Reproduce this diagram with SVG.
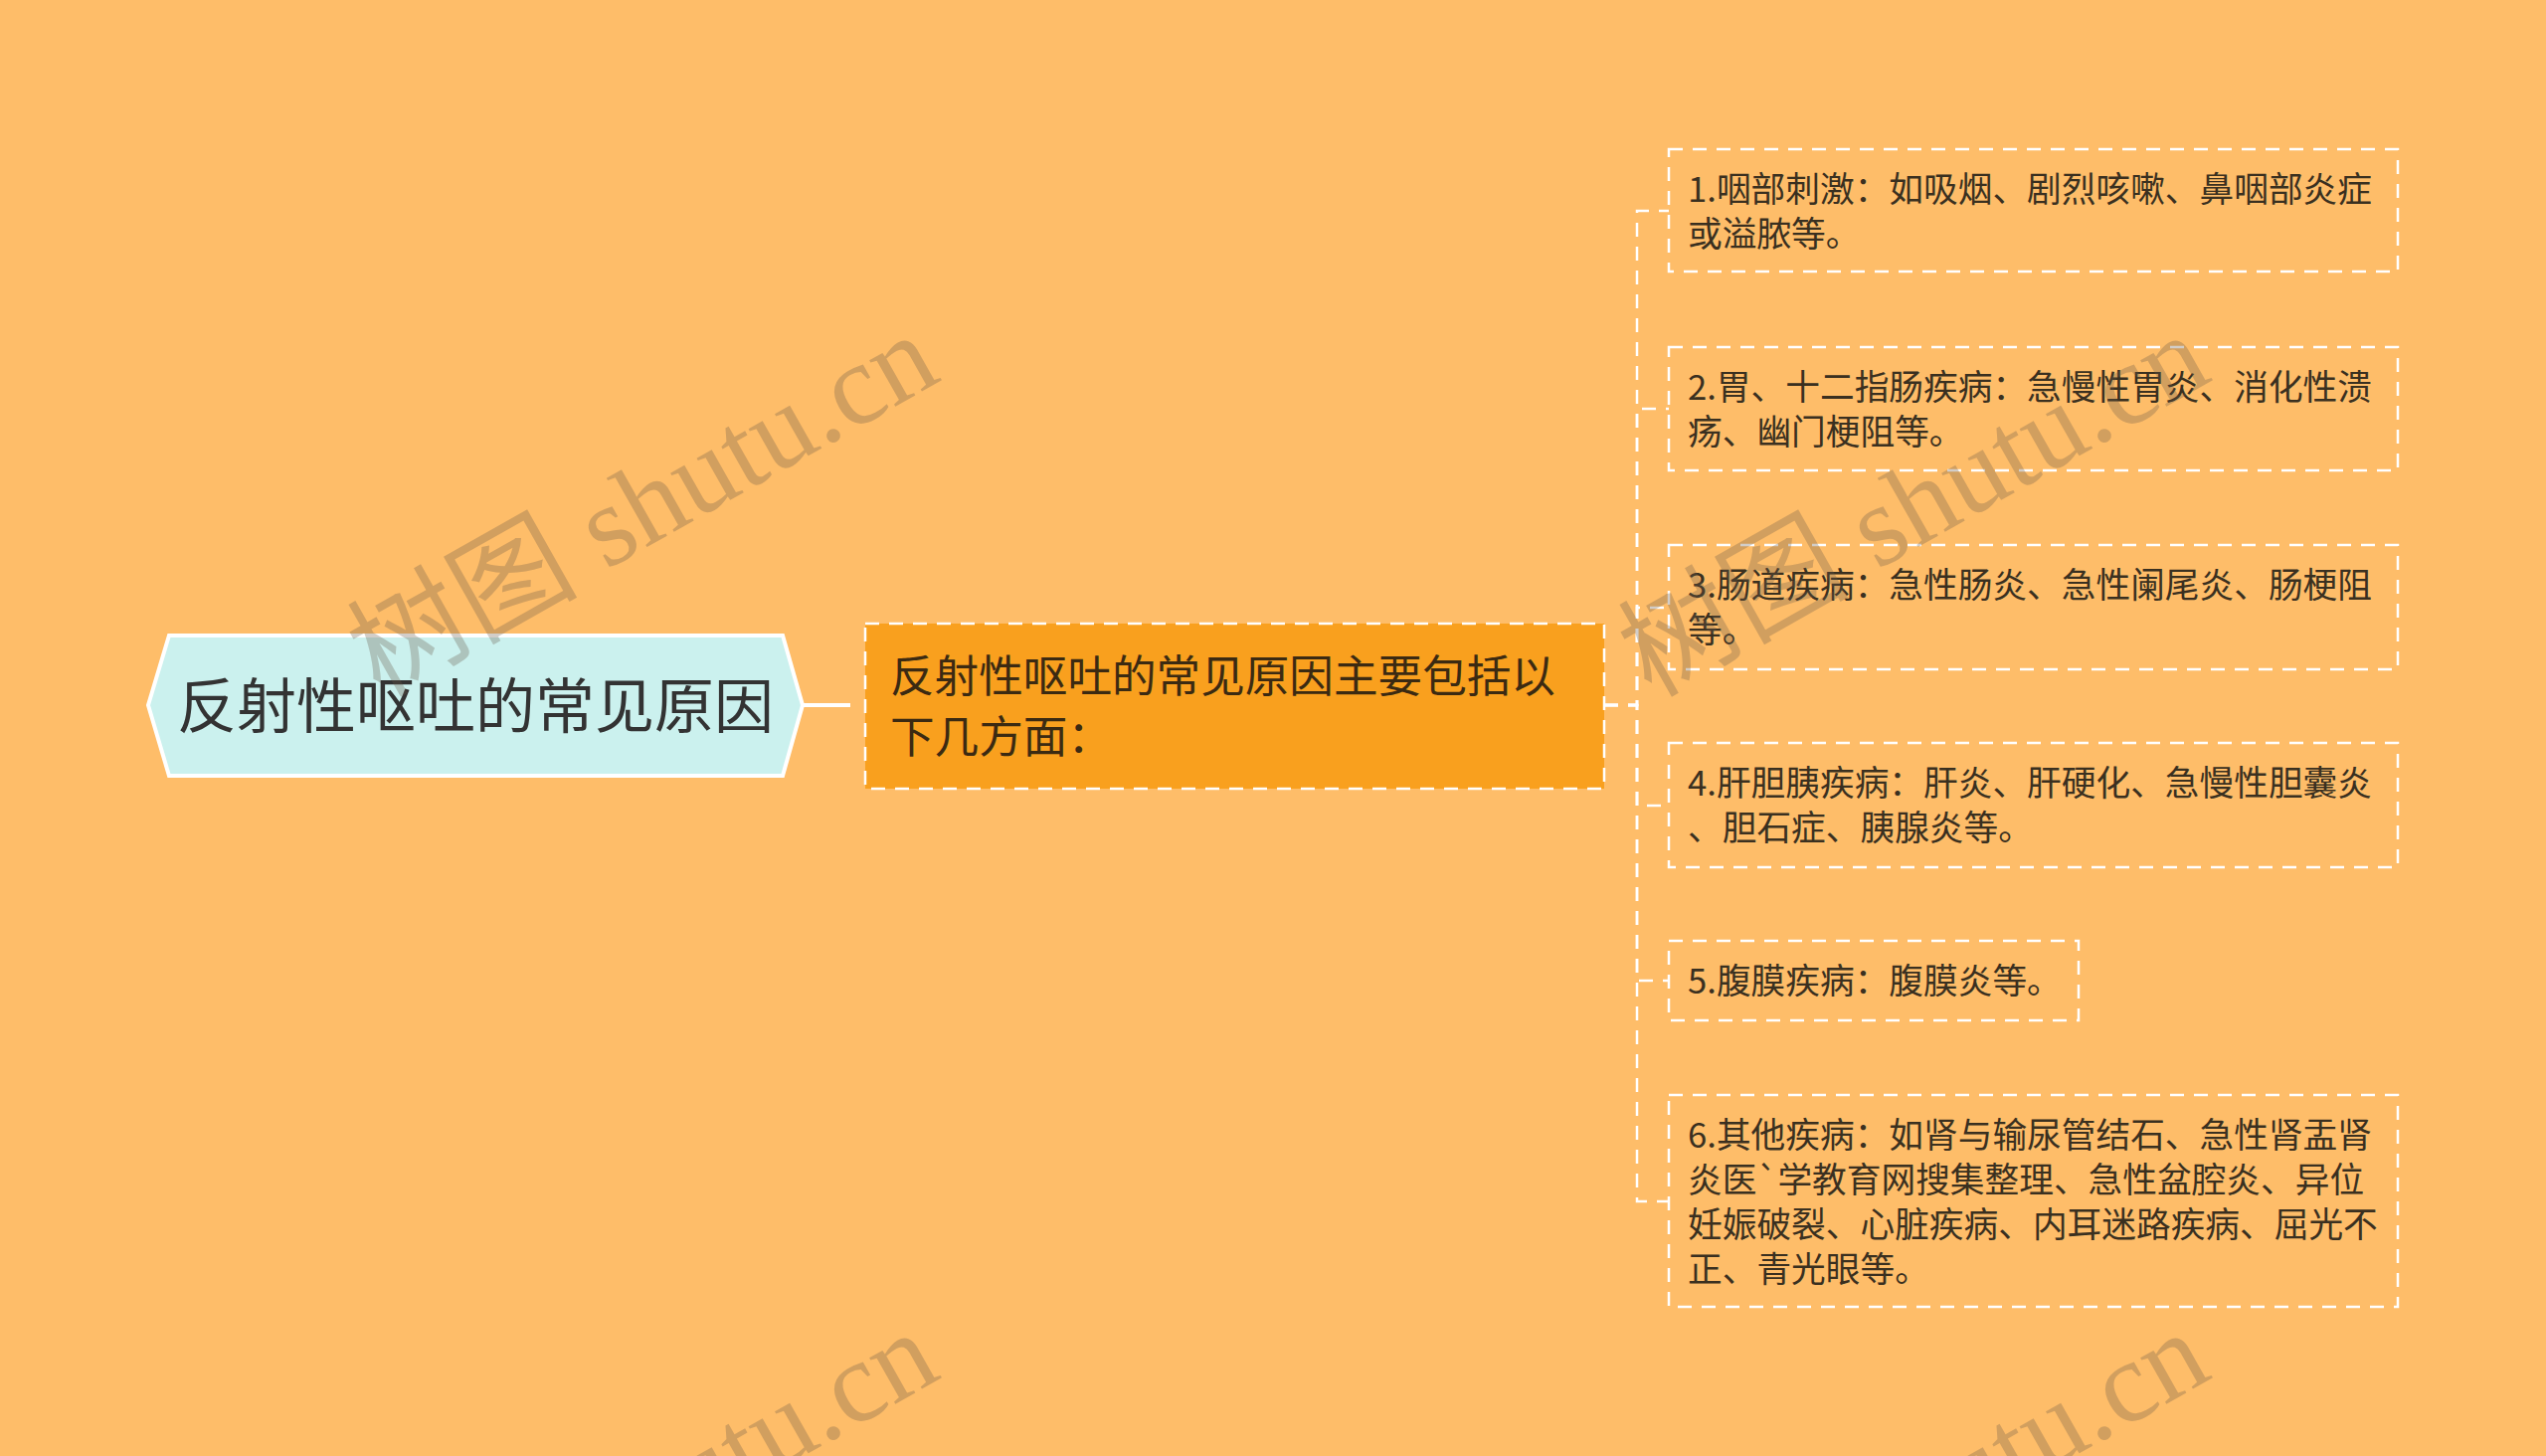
<svg xmlns="http://www.w3.org/2000/svg" width="2560" height="1464" viewBox="0 0 2560 1464">
<style>
.cjk{font-family:"Noto Sans CJK SC","Noto Sans",sans-serif}
.leafbox{fill:none;stroke:#ffffff;stroke-width:2.5;stroke-dasharray:14 10}
.leaftxt{font-size:34.7px;fill:#3a3020}
.conn{fill:none;stroke:#ffffff;stroke-width:2.5;stroke-dasharray:14 10}
.wm{font-family:"Liberation Serif","Noto Sans CJK SC",serif;font-size:116px;fill:#6b5a48;fill-opacity:0.3}
</style>
<rect x="0" y="0" width="2560" height="1464" fill="#FEBD69"/>

<g id="connectors">
<path d="M807 709 H855" fill="none" stroke="#ffffff" stroke-width="4"/>
<path class="conn" d="M1613 709 H1646 V212 H1678"/>
<path class="conn" d="M1613 709 H1646 V411 H1678"/>
<path class="conn" d="M1613 709 H1646 V611 H1678"/>
<path class="conn" d="M1613 709 H1646 V810 H1678"/>
<path class="conn" d="M1613 709 H1646 V986 H1678"/>
<path class="conn" d="M1613 709 H1646 V1208 H1678"/>
</g>

<g id="root">
<polygon points="149,709 170,639 787,639 807,709 787,780 170,780" fill="#CBF1EE" stroke="#ffffff" stroke-width="4"/>
<text class="cjk" x="478" y="732" font-size="60" fill="#333333" text-anchor="middle">反射性呕吐的常见原因</text>
</g>

<g id="child">
<rect x="870" y="627" width="743" height="166" fill="#F9A01E" stroke="#ffffff" stroke-width="2.5" stroke-dasharray="14 10"/>
<text class="cjk" x="895" y="696" font-size="44.6" fill="#3b2a12">反射性呕吐的常见原因主要包括以</text>
<text class="cjk" x="895" y="757" font-size="44.6" fill="#3b2a12">下几方面：</text>
</g>

<g id="leaf1">
<rect class="leafbox" x="1678" y="150" width="733" height="123"/>
<text class="cjk leaftxt" x="1697" y="203">1.咽部刺激：如吸烟、剧烈咳嗽、鼻咽部炎症</text>
<text class="cjk leaftxt" x="1697" y="248">或溢脓等。</text>
</g>

<g id="leaf2">
<rect class="leafbox" x="1678" y="349" width="733" height="124"/>
<text class="cjk leaftxt" x="1697" y="402">2.胃、十二指肠疾病：急慢性胃炎、消化性溃</text>
<text class="cjk leaftxt" x="1697" y="447">疡、幽门梗阻等。</text>
</g>

<g id="leaf3">
<rect class="leafbox" x="1678" y="548" width="733" height="125"/>
<text class="cjk leaftxt" x="1697" y="601">3.肠道疾病：急性肠炎、急性阑尾炎、肠梗阻</text>
<text class="cjk leaftxt" x="1697" y="646">等。</text>
</g>

<g id="leaf4">
<rect class="leafbox" x="1678" y="747" width="733" height="125"/>
<text class="cjk leaftxt" x="1697" y="800">4.肝胆胰疾病：肝炎、肝硬化、急慢性胆囊炎</text>
<text class="cjk leaftxt" x="1697" y="845">、胆石症、胰腺炎等。</text>
</g>

<g id="leaf5">
<rect class="leafbox" x="1678" y="946" width="412" height="80"/>
<text class="cjk leaftxt" x="1697" y="999">5.腹膜疾病：腹膜炎等。</text>
</g>

<g id="leaf6">
<rect class="leafbox" x="1678" y="1101" width="733" height="213"/>
<text class="cjk leaftxt" x="1697" y="1154">6.其他疾病：如肾与输尿管结石、急性肾盂肾</text>
<text class="cjk leaftxt" x="1697" y="1199">炎医`学教育网搜集整理、急性盆腔炎、异位</text>
<text class="cjk leaftxt" x="1697" y="1244">妊娠破裂、心脏疾病、内耳迷路疾病、屈光不</text>
<text class="cjk leaftxt" x="1697" y="1289">正、青光眼等。</text>
</g>

<g id="watermarks">
<text class="wm" transform="translate(382,702) rotate(-29.5)">树图 shutu.cn</text>
<text class="wm" transform="translate(1660,702) rotate(-29.5)">树图 shutu.cn</text>
<text class="wm" transform="translate(382,1705) rotate(-29.5)">树图 shutu.cn</text>
<text class="wm" transform="translate(1660,1705) rotate(-29.5)">树图 shutu.cn</text>
</g>
</svg>
